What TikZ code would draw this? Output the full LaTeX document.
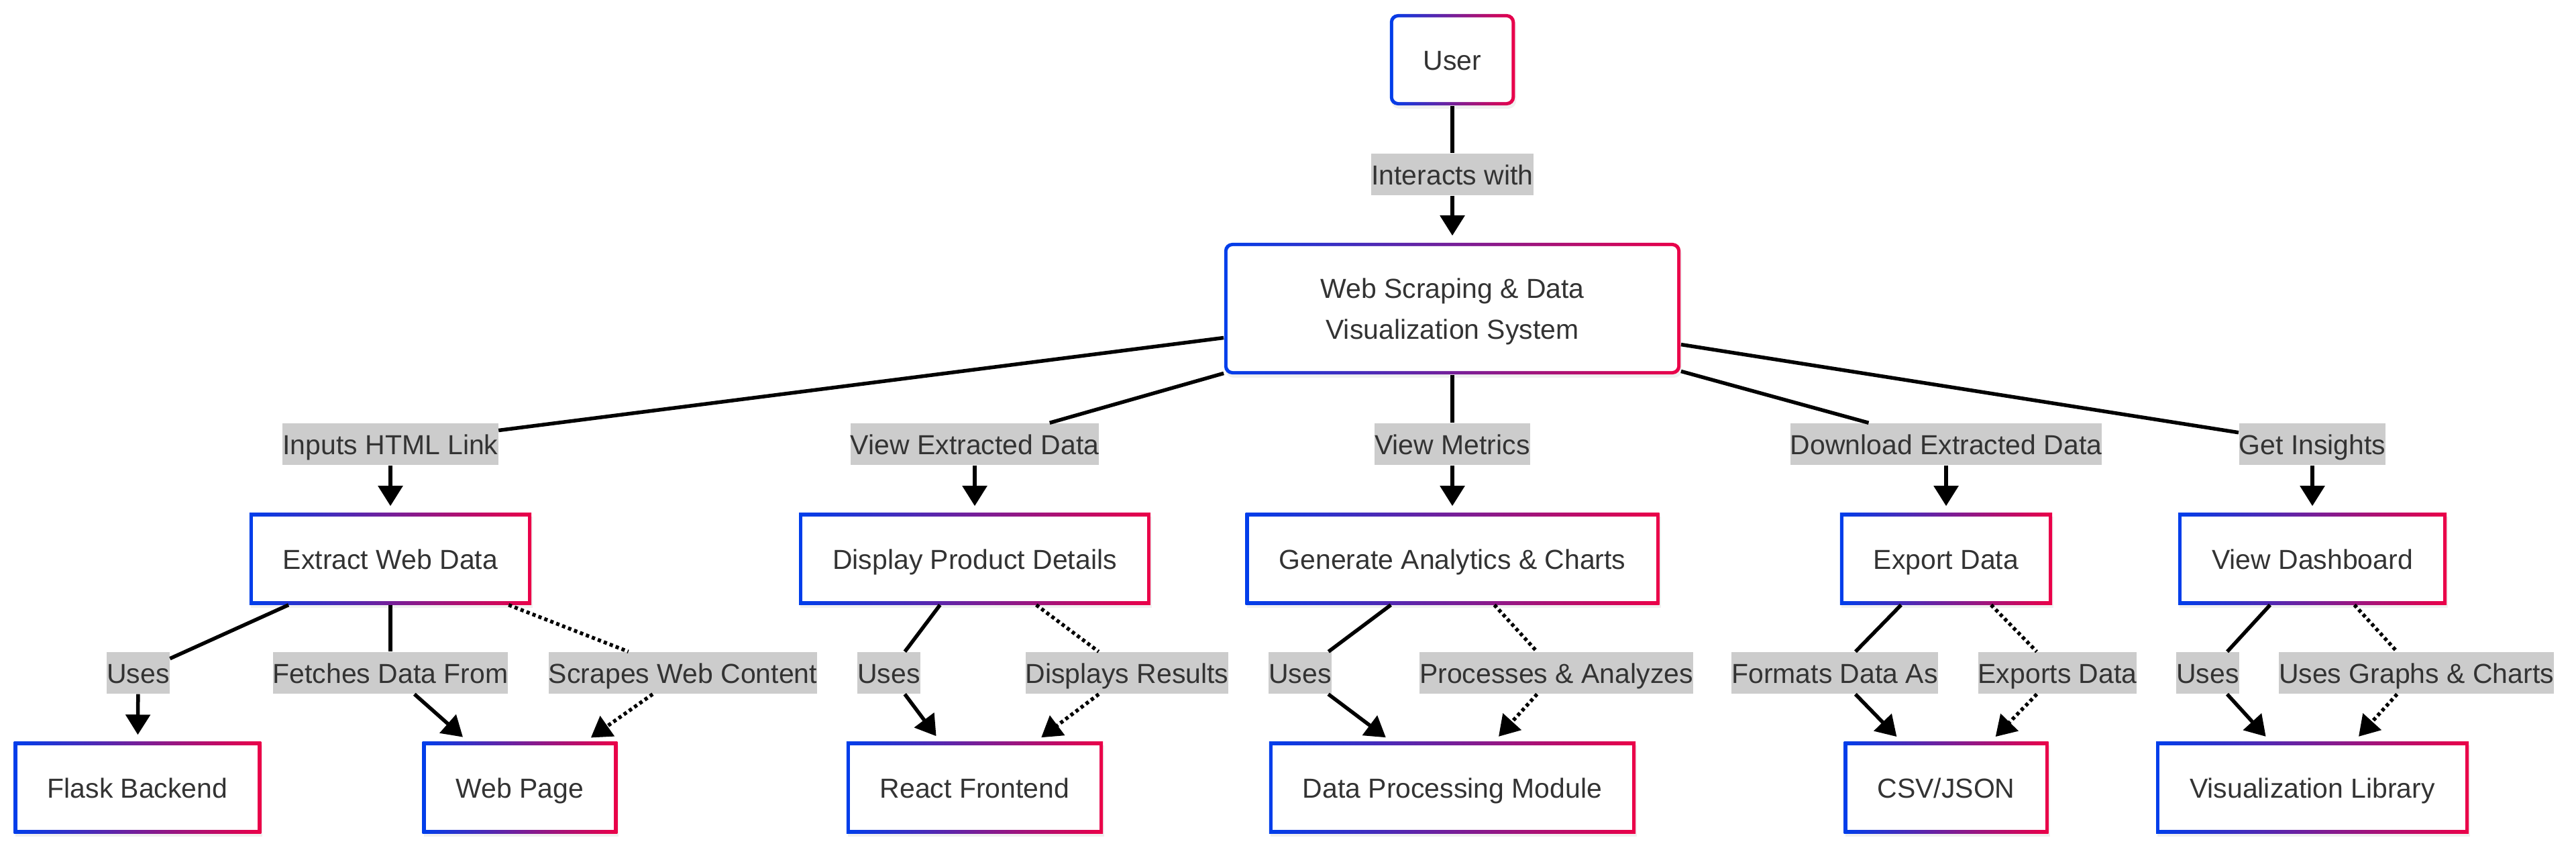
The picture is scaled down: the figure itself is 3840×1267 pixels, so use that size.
\documentclass[tikz,border=0pt]{standalone}
\usepackage{fontspec}
\setmainfont{Liberation Sans}
\usetikzlibrary{arrows.meta,shadows}
\definecolor{rimblue}{RGB}{0,62,235}
\definecolor{rimred}{RGB}{235,0,72}
\definecolor{taggray}{RGB}{204,204,204}
\definecolor{ink}{RGB}{51,51,51}
\tikzset{
	box/.style={rectangle, minimum height=1.36cm, inner xsep=0.5cm, inner ysep=0pt,
		text=ink, font=\fontsize{11.65pt}{17.3pt}\selectfont,
		text height=0.3cm, text depth=0cm,
		left color=rimblue, right color=rimred,
		drop shadow={opacity=0.12, shadow xshift=0.02cm, shadow yshift=-0.05cm},
		path picture={\fill[white] ([xshift=0.05cm,yshift=-0.05cm]path picture bounding box.north west) rectangle ([xshift=-0.05cm,yshift=0.05cm]path picture bounding box.south east);}},
	roundbox/.style={box, rounded corners=0.12cm,
		path picture={\fill[white, rounded corners=0.08cm] ([xshift=0.05cm,yshift=-0.05cm]path picture bounding box.north west) rectangle ([xshift=-0.05cm,yshift=0.05cm]path picture bounding box.south east);}},
	tag/.style={fill=taggray, text=ink, inner xsep=0pt, inner ysep=0pt, minimum height=0.62cm,
		text height=0.3cm, text depth=0cm, font=\fontsize{11.65pt}{14pt}\selectfont},
	link/.style={line width=0.055cm},
	arrow/.style={link, -{Triangle[length=0.3cm, width=0.36cm]}, shorten >=0.1cm},
	dots/.style={dash pattern=on 0.05cm off 0.045cm}
}

\begin{document}
\begin{tikzpicture}[x=0.01cm, y=-0.01cm]
			%%%%% START %%%%%
			\useasboundingbox (0,0) rectangle (3840,1267);
			
			\node[roundbox] (user) at (2165,89) {User};
			\node[roundbox, minimum width=6.8cm, minimum height=1.96cm, align=center, text height=0.91cm, text depth=0cm] (system) at (2165,460) {Web Scraping \& Data\\Visualization System};
			
			\node[box] (extract) at (582,833) {Extract Web Data};
			\node[box] (display) at (1453,833) {Display Product Details};
			\node[box] (analytics) at (2165,833) {Generate Analytics \& Charts};
			\node[box] (export) at (2901,833) {Export Data};
			\node[box] (dashboard) at (3447,833) {View Dashboard};
			
			\node[box] (flask) at (205,1174) {Flask Backend};
			\node[box] (webpage) at (775,1174) {Web Page};
			\node[box] (react) at (1453,1174) {React Frontend};
			\node[box] (processing) at (2165,1174) {Data Processing Module};
			\node[box] (csvjson) at (2901,1174) {CSV/JSON};
			\node[box] (vizlib) at (3447,1174) {Visualization Library};
			
			\node[tag] (tInteracts) at (2165,260) {Interacts with};
			
			\node[tag] (tInputs) at (582,662) {Inputs HTML Link};
			\node[tag] (tViewData) at (1453,662) {View Extracted Data};
			\node[tag] (tMetrics) at (2165,662) {View Metrics};
			\node[tag] (tDownload) at (2901,662) {Download Extracted Data};
			\node[tag] (tInsights) at (3447,662) {Get Insights};
			
			\node[tag] (tUsesA) at (206,1003) {Uses};
			\node[tag] (tFetches) at (582,1003) {Fetches Data From};
			\node[tag] (tScrapes) at (1018,1003) {Scrapes Web Content};
			\node[tag] (tUsesB) at (1325,1003) {Uses};
			\node[tag] (tDisplays) at (1680,1003) {Displays Results};
			\node[tag] (tUsesC) at (1938,1003) {Uses};
			\node[tag] (tProcesses) at (2320,1003) {Processes \& Analyzes};
			\node[tag] (tFormats) at (2735,1003) {Formats Data As};
			\node[tag] (tExports) at (3067,1003) {Exports Data};
			\node[tag] (tUsesD) at (3291,1003) {Uses};
			\node[tag] (tGraphs) at (3602,1003) {Uses Graphs \& Charts};
			
			\draw[link] (user) -- (tInteracts);
			\draw[arrow] (tInteracts) -- (system);
			
			\draw[link] (system) -- (tInputs);
			\draw[arrow] (tInputs) -- (extract);
			\draw[link] (system) -- (tViewData);
			\draw[arrow] (tViewData) -- (display);
			\draw[link] (system) -- (tMetrics);
			\draw[arrow] (tMetrics) -- (analytics);
			\draw[link] (system) -- (tDownload);
			\draw[arrow] (tDownload) -- (export);
			\draw[link] (system) -- (tInsights);
			\draw[arrow] (tInsights) -- (dashboard);
			
			\draw[link] (extract) -- (tUsesA);
			\draw[arrow] (tUsesA) -- (flask);
			\draw[link] (extract) -- (tFetches);
			\draw[arrow] (tFetches) -- (webpage);
			\draw[link, dots] (extract) -- (tScrapes);
			\draw[arrow, dots] (tScrapes) -- (webpage);
			
			\draw[link] (display) -- (tUsesB);
			\draw[arrow] (tUsesB) -- (react);
			\draw[link, dots] (display) -- (tDisplays);
			\draw[arrow, dots] (tDisplays) -- (react);
			
			\draw[link] (analytics) -- (tUsesC);
			\draw[arrow] (tUsesC) -- (processing);
			\draw[link, dots] (analytics) -- (tProcesses);
			\draw[arrow, dots] (tProcesses) -- (processing);
			
			\draw[link] (export) -- (tFormats);
			\draw[arrow] (tFormats) -- (csvjson);
			\draw[link, dots] (export) -- (tExports);
			\draw[arrow, dots] (tExports) -- (csvjson);
			
			\draw[link] (dashboard) -- (tUsesD);
			\draw[arrow] (tUsesD) -- (vizlib);
			\draw[link, dots] (dashboard) -- (tGraphs);
			\draw[arrow, dots] (tGraphs) -- (vizlib);
			
			%%%%% END %%%%%
\end{tikzpicture}
\end{document}
